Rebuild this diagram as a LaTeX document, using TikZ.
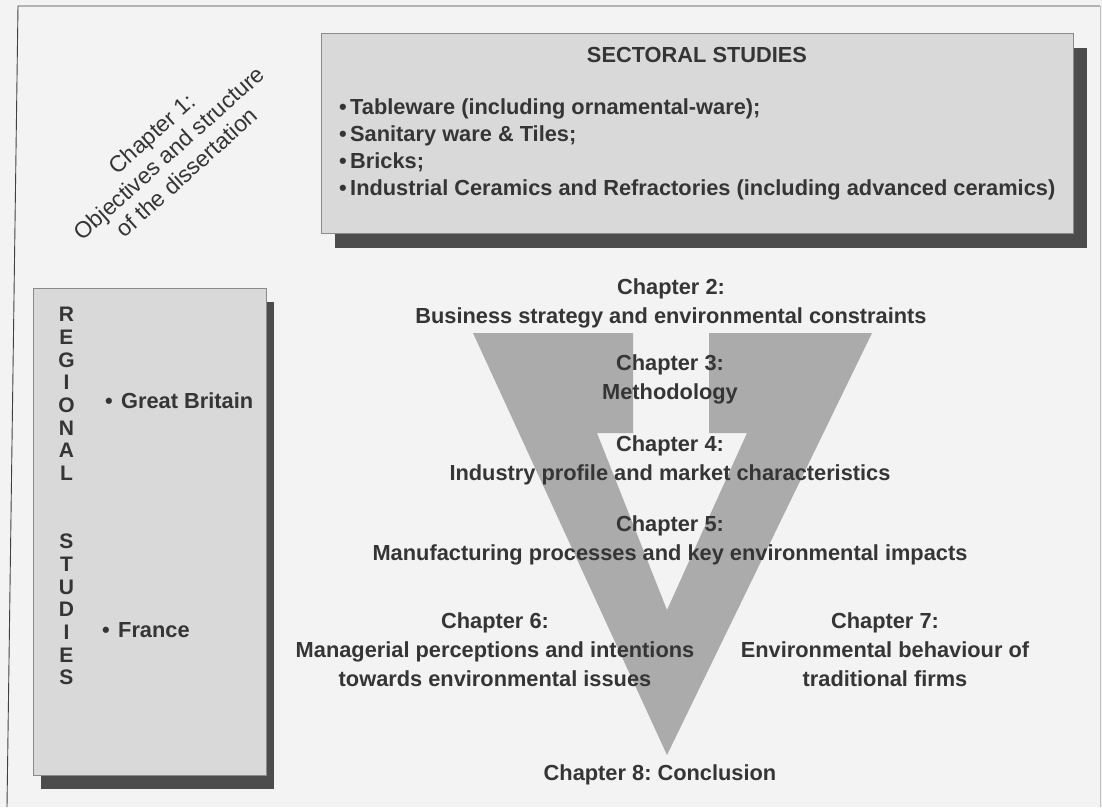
\documentclass[tikz,border=0pt]{standalone}
\usepackage{fontspec}
\setmainfont{Liberation Sans}
\usetikzlibrary{shadows}
\definecolor{paper}{HTML}{F3F3F3}
\definecolor{ink}{HTML}{353535}
\definecolor{boxfill}{HTML}{D9D9D9}
\definecolor{boxline}{HTML}{8A8A8A}
\definecolor{shade}{HTML}{4C4C4C}
\definecolor{vgray}{HTML}{ABABAB}
\begin{document}
\frenchspacing
\begin{tikzpicture}[x=1pt,y=-1pt,
  % multi-line nodes: the base anchor sits on the last line
  chap/.style={text=ink, inner sep=0pt, align=center, anchor=base,
    font=\bfseries\fontsize{21.8}{29}\selectfont},
  studybox/.style={draw=boxline, line width=0.6pt, fill=boxfill, inner sep=0pt,
    anchor=north west},
  boxtext/.style={text=ink, inner sep=0pt, font=\bfseries\fontsize{21.8}{26.7}\selectfont},
  letter/.style={text=ink, inner sep=0pt, anchor=base,
    font=\bfseries\fontsize{21}{22.7}\selectfont},
  frameline/.style={draw=black!75, line width=0.9pt}]
\useasboundingbox (0,0) rectangle (1102,807);
\fill[paper] (0,0) rectangle (1102,807);

% page frame
\draw[frameline] (7,807) -- (18,6) -- (1100,6);
\draw[draw=black!25, line width=0.6pt] (1100,6) -- (1100,807);

% chapter 1, written on the slant
\node[text=ink, inner sep=0pt, align=center, rotate=42,
  font=\fontsize{22.9}{26}\selectfont] (ch1) at (169,153)
  {Chapter 1:\\Objectives and structure\\of the dissertation};

% sectoral studies
\node[studybox, minimum width=752, minimum height=200,
  drop shadow={shadow xshift=14pt, shadow yshift=-15pt, fill=shade, opacity=1}]
  (sect) at (321,33) {};
\node[boxtext, anchor=base] (secttitle) at (697,62) {SECTORAL STUDIES};
\node[boxtext, anchor=base west, align=left] (sectlist) at (339,195)
  {\makebox[11pt][l]{•}Tableware (including ornamental-ware);\\
   \makebox[11pt][l]{•}Sanitary ware \& Tiles;\\
   \makebox[11pt][l]{•}Bricks;\\
   \makebox[11pt][l]{•}Industrial Ceramics and Refractories (including advanced ceramics)};

% regional studies
\node[studybox, minimum width=233, minimum height=487,
  drop shadow={shadow xshift=8pt, shadow yshift=-14pt, fill=shade, opacity=1}]
  (reg) at (33,288) {};
\foreach \l [count=\i from 0] in {R,E,G,I,O,N,A,L}
  \node[letter] (rg\i) at (66.5,321.7+22.7*\i) {\l};
\foreach \l [count=\i from 10] in {S,T,U,D,I,E,S}
  \node[letter] (st\i) at (66.5,321.7+22.7*\i) {\l};
\node[boxtext, anchor=base west] (gb) at (105,408)
  {\makebox[16pt][l]{•}Great Britain};
\node[boxtext, anchor=base west] (fr) at (102,637)
  {\makebox[16pt][l]{•}France};

% the V with its arrow-shaped notch
\fill[vgray] (473,333) -- (633,333) -- (633,433) -- (597,433) -- (667,610)
  -- (747,433) -- (709,433) -- (709,333) -- (872,333) -- (667,755) -- cycle;

% chapters 2 to 8
\node[chap] (ch2) at (671,323)
  {Chapter 2:\\Business strategy and environmental constraints};
\node[chap] (ch3) at (670,399) {Chapter 3:\\Methodology};
\node[chap] (ch4) at (670,480)
  {Chapter 4:\\Industry profile and market characteristics};
\node[chap] (ch5) at (670,560)
  {Chapter 5:\\Manufacturing processes and key environmental impacts};
\node[chap] (ch6) at (495,686)
  {Chapter 6:\\Managerial perceptions and intentions\\towards environmental issues};
\node[chap] (ch7) at (885,686)
  {Chapter 7:\\Environmental behaviour of\\traditional firms};
\node[chap] (ch8) at (660,780) {Chapter 8: Conclusion};
\end{tikzpicture}
\end{document}
